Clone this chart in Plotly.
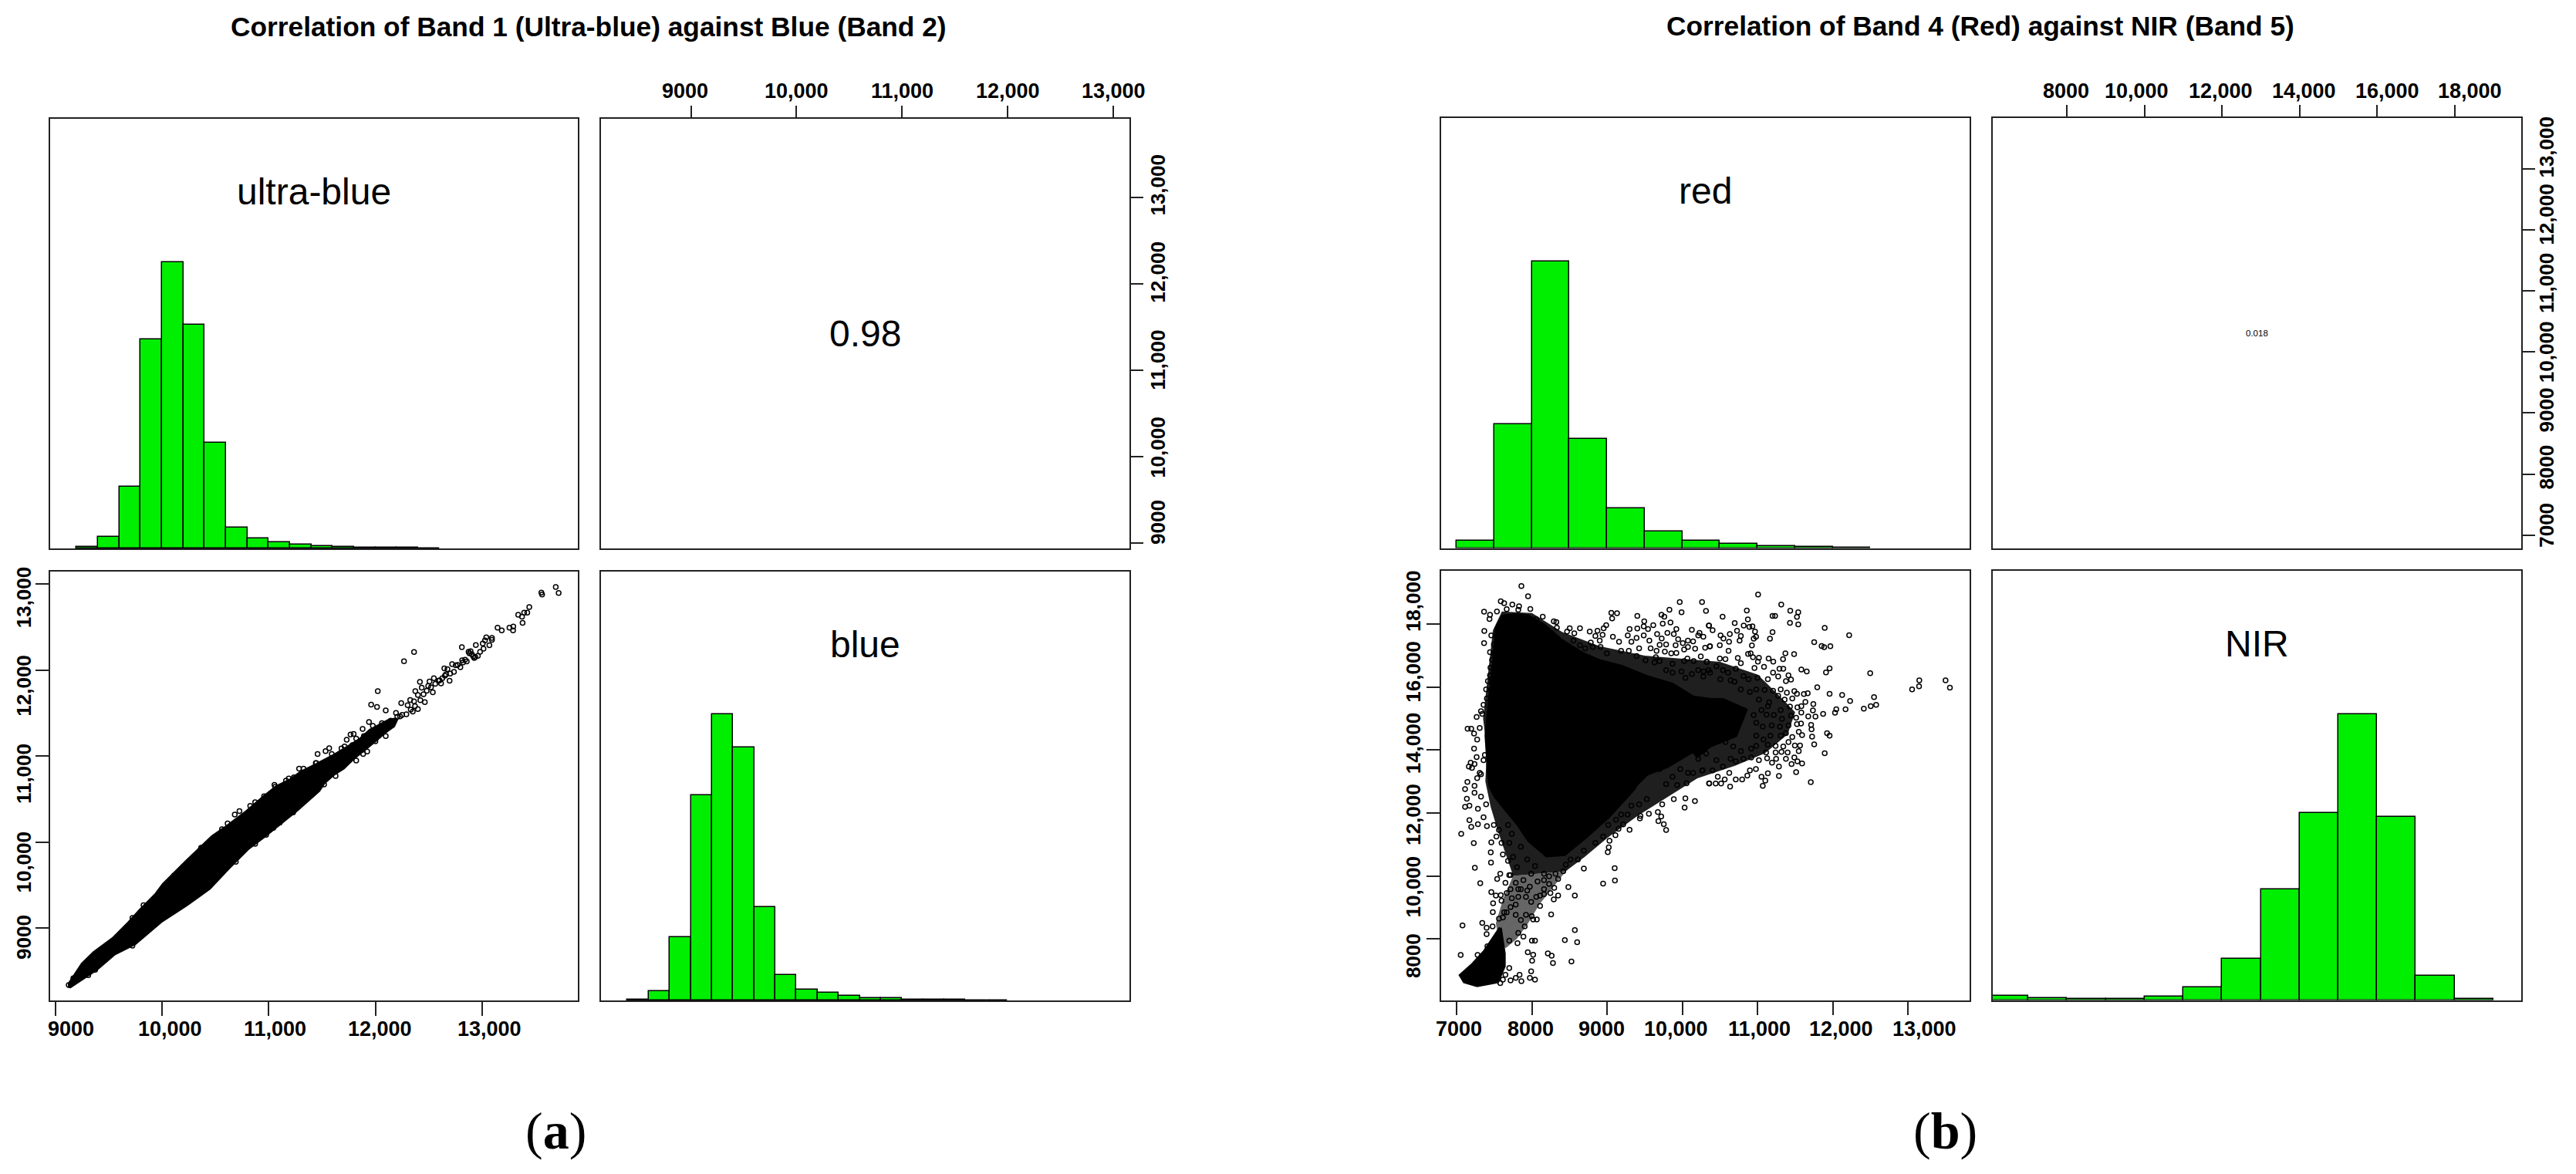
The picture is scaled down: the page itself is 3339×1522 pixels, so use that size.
import plotly.graph_objects as go

W, H = 3339, 1522

# ---------- tick labels ----------
A_ub_ticks = [9000, 10000, 11000, 12000, 13000]
A_b_ticks = [9000, 10000, 11000, 12000, 13000]
B_red_ticks = [7000, 8000, 9000, 10000, 11000, 12000, 13000]
B_nir_ticks = [8000, 10000, 12000, 14000, 16000, 18000]

# ---------- histograms (bin starts, height as % of tallest bin) ----------
ub_bins = [9200, 9400, 9600, 9800, 10000, 10200, 10400, 10600, 10800, 11000, 11200, 11400, 11600, 11800, 12000, 12200, 12400]
ub_hist = [0.6, 4.1, 21.6, 73.0, 100, 78.1, 36.8, 7.3, 3.4, 2.1, 1.3, 0.9, 0.6, 0.4, 0.3, 0.2, 0.1]
blue_bins = [8400, 8600, 8800, 9000, 9200, 9400, 9600, 9800, 10000, 10200, 10400, 10600, 10800, 11000, 11200, 11400, 11600, 11800]
blue_hist = [0.3, 3.2, 22.1, 71.7, 100, 88.6, 32.6, 9.0, 3.8, 2.6, 1.7, 0.9, 0.7, 0.4, 0.3, 0.2, 0.1, 0.1]
red_bins = [7000, 7500, 8000, 8500, 9000, 9500, 10000, 10500, 11000, 11500, 12000]
red_hist = [2.6, 43.1, 100, 38.0, 13.9, 5.9, 2.6, 1.4, 0.6, 0.3, 0.1]
nir_bins = [6000, 7000, 8000, 9000, 10000, 11000, 12000, 13000, 14000, 15000, 16000, 17000, 18000]
nir_hist = [1.6, 0.8, 0.3, 0.4, 1.1, 4.5, 14.3, 38.7, 65.4, 100, 64.0, 8.5, 0.3]

# ---------- panel (a) scatter: outline of the solid black band and single points ----------
A_band = [(9132, 8354), (9252, 8579), (9361, 8713), (9541, 8878), (9674, 9042), (9795, 9207), (9939, 9386),
          (10011, 9506), (10228, 9775), (10469, 10060), (10590, 10164), (10783, 10344), (10951, 10523), (11072, 10643),
          (11200, 10720), (11300, 10810), (11445, 10900), (11600, 11000), (11720, 11090), (11850, 11190), (11950, 11300),
          (12050, 11370), (12130, 11420), (12200, 11430), (12170, 11350), (12080, 11270), (12000, 11180), (11900, 11080),
          (11790, 10970), (11700, 10860), (11600, 10780), (11518, 10690), (11469, 10598), (11265, 10374), (11120, 10224),
          (10951, 10060), (10807, 9925), (10614, 9686), (10445, 9461), (10228, 9267), (9987, 9072), (9746, 8818),
          (9553, 8698), (9385, 8519), (9132, 8309)]
A_points = [(13689, 12967), (13716, 12896), (13554, 12902), (13561, 12878), (13441, 12734), (13337, 12644), (13422, 12668),
            (13393, 12668), (13373, 12620), (13378, 12549), (13255, 12492), (13291, 12507), (13289, 12462), (13144, 12492),
            (13183, 12462), (13091, 12375), (13038, 12381), (13091, 12351), (13067, 12288), (13026, 12345), (13005, 12309),
            (13012, 12249), (12980, 12213), (12940, 12291), (12809, 12267), (12361, 12210), (12267, 12103), (12021, 11756),
            (11959, 11597), (12014, 11570), (12416, 11863), (12872, 12213), (12903, 12184), (12935, 12151), (12959, 12166),
            (12891, 12219), (12915, 12160), (12925, 12140), (12880, 12195), (12855, 12100), (12812, 12115), (12795, 12034),
            (12752, 12055), (12718, 12070), (12645, 12019), (12674, 12010), (12735, 11980), (12694, 11875), (12650, 11935),
            (12626, 11905), (12590, 11875), (12614, 11845), (12547, 11905), (12506, 11866), (12494, 11815), (12433, 11795),
            (12537, 11741), (12373, 11756), (12462, 11627), (12397, 11711), (12361, 11636), (12325, 11651), (12301, 11591),
            (12241, 11615), (12096, 11531), (12349, 11516), (12289, 11486), (12192, 11501), (12397, 11546), (12060, 11382),
            (12096, 11352), (12144, 11412), (12204, 11457), (12072, 11292), (12096, 11232), (11939, 11397), (11975, 11352),
            (11879, 11316), (11795, 11256), (11766, 11250), (11730, 11190), (11819, 11202), (11566, 11091), (11532, 11058),
            (11590, 11023), (11457, 11023), (11681, 11088), (11710, 11112), (11783, 11127), (11891, 11232), (11975, 11277),
            (12036, 11322), (11819, 10948), (11884, 11023), (11922, 11053), (11999, 11172), (11626, 10768), (11518, 10670),
            (11440, 10918), (11385, 10813), (12330, 11540), (12370, 11580), (12420, 11650), (12250, 11480), (12450, 11720),
            (12480, 11760), (12520, 11800), (12560, 11840), (12600, 11880), (12660, 11950), (12700, 11960), (12770, 12060),
            (12820, 12090), (12840, 12120), (12230, 11460), (12160, 11380), (11445, 10918), (11284, 10852), (11325, 10852),
            (11378, 10819), (11187, 10738), (11161, 10714), (11053, 10664), (11235, 10753), (9826, 9264), (9722, 8794),
            (9722, 9117), (9308, 8450), (9373, 8513), (9125, 8336), (9168, 8414), (10681, 10320), (10725, 10359),
            (10614, 10215), (10561, 10149), (10826, 10419), (10872, 10463), (10956, 10532), (10691, 9769), (10872, 9979),
            (10975, 10084), (11043, 10164), (11103, 10224), (11228, 10344), (10113, 9611), (10199, 9710), (10366, 9934),
            (11060, 10643)]

# ---------- panel (b) scatter: outlines of the black / dense regions and single points ----------
B_fringe = [(7400, 14000), (7350, 15000), (7420, 16500), (7480, 17800), (7600, 18400), (8000, 18350), (8400, 17750), (8900, 17300),
            (9500, 17000), (10000, 16900), (10500, 16800), (11000, 16400), (11300, 15700), (11500, 15200), (11400, 14500),
            (11100, 13900), (10700, 13500), (10200, 13100), (9800, 12500), (9400, 11900), (9000, 11200), (8700, 10600),
            (8450, 10150), (7750, 10000), (7650, 10700), (7550, 11400), (7450, 12200), (7380, 13000)]
B_neck = [(8450, 10150), (8300, 9700), (8100, 9100), (7950, 8500), (7800, 8000), (7650, 7700), (7560, 7900), (7520, 8500),
          (7620, 9300), (7750, 10000)]
B_mass = [(7425, 13148), (7390, 14455), (7442, 15762), (7493, 16825), (7527, 17887), (7613, 18254), (7783, 18295),
          (7954, 18254), (8160, 17968), (8399, 17478), (8672, 17070), (8912, 16825), (9185, 16661), (9527, 16334),
          (9869, 16089), (10143, 15681), (10382, 15599), (10539, 15599), (10847, 15272), (10710, 14455), (10368, 14128),
          (10197, 13802), (10143, 13965), (9801, 13475), (9527, 13230), (9390, 12903), (9356, 12764), (9014, 11866),
          (8707, 11212), (8433, 10681), (8194, 10640), (7954, 11130), (7818, 11620), (7647, 12111), (7510, 12519),
          (7442, 12846)]
B_foot = [(7578, 8352), (7630, 7535), (7630, 7127), (7544, 6637), (7271, 6514), (7100, 6637), (7048, 6841), (7202, 7168),
          (7373, 7617), (7493, 8026)]
B_points = [(7859, 19210), (7948, 18883), (7585, 18728), (7630, 18663), (7739, 18622), (7828, 18565), (7978, 18483),
            (7363, 18393), (7534, 18401), (7442, 18295), (7435, 18164), (7664, 18475), (7818, 18459), (8143, 18238),
            (8057, 18156), (8290, 18091), (8324, 18066), (7366, 17780), (7363, 17396), (7459, 17641), (7493, 17356),
            (7442, 17110), (7493, 17070), (7469, 16865), (7448, 16620), (7493, 16580), (7442, 16375), (7414, 16187),
            (7390, 15926), (7400, 15640), (7356, 15436), (7322, 15231), (7264, 15052), (7339, 15150), (7144, 14676),
            (7192, 14676), (7230, 14521), (7305, 14700), (7271, 14333), (7230, 14047), (7264, 13777), (7356, 13679),
            (7185, 13597), (7161, 13475), (7202, 13434), (7236, 13557), (7141, 12985), (7305, 13270), (7271, 13107),
            (7236, 12862), (7373, 13842), (7322, 13230), (8502, 17870), (8638, 17870), (8563, 17707), (8467, 17764),
            (8331, 17887), (8768, 17764), (8871, 17788), (8953, 17870), (8987, 17968), (9055, 18360), (9131, 18344),
            (9066, 18181), (8939, 17658), (8843, 17625), (8782, 17413), (8901, 17478), (9076, 17601), (9158, 17437),
            (9401, 18262), (9493, 18091), (9298, 17846), (9401, 17862), (9274, 17641), (9391, 17560), (9486, 17641),
            (9544, 17846), (9613, 17968), (9486, 17928), (9722, 18295), (9760, 18238), (9739, 18017), (9842, 18050),
            (9828, 18458), (9965, 18704), (9989, 18377), (9920, 17846), (10126, 17821), (10262, 18704), (10314, 18418),
            (10355, 17952), (10228, 17723), (10279, 17601), (9664, 17682), (9725, 17543), (9801, 17723), (9886, 17682),
            (9944, 17519), (10006, 17396), (10074, 17478), (10143, 17454), (10211, 17641), (9784, 17356), (9698, 17339),
            (9910, 17331), (10074, 17274), (10170, 17217), (10303, 17249), (10365, 17290), (9578, 17233), (9657, 17151),
            (9767, 17127), (9852, 17070), (9920, 17086), (10023, 17192), (10245, 16972), (10324, 16800), (10150, 16824),
            (10023, 16824), (10067, 16906), (9647, 16947), (9698, 16824), (9510, 16849), (9869, 16743), (9784, 16539),
            (9989, 16498), (10211, 16539), (10126, 16416), (10348, 16539), (10279, 16334), (10040, 16293), (9869, 16457),
            (9630, 16784), (9391, 16988), (9288, 17151), (9185, 17151), (9425, 17233), (9322, 17437), (9561, 17478),
            (8997, 17070), (8912, 17274), (8809, 17274), (8707, 17233), (8553, 17478), (8638, 17331),
            (11007, 18941), (11315, 18622), (11435, 18426), (11541, 18377), (11524, 18230), (10857, 18434), (10871, 18148),
            (10535, 18238), (11199, 18262), (11233, 18262), (11431, 18042), (11541, 17993), (10696, 18034), (10816, 17952),
            (10891, 17911), (10932, 17927), (10351, 17952), (10402, 17805), (10966, 17764), (10727, 17788), (11199, 17748),
            (10631, 17682), (10508, 17641), (10546, 17543), (10778, 17625), (10980, 17601), (10761, 17478), (10949, 17535),
            (11165, 17535), (10621, 17437), (10498, 17331), (10925, 17323), (10614, 17151), (10368, 17298), (11370, 17070),
            (11486, 17045), (10874, 17053), (10908, 17070), (10939, 16947), (11018, 16931), (11004, 16808), (11147, 16906),
            (11209, 16808), (11339, 16890), (10498, 16906), (10573, 16890), (10737, 16922), (10778, 16759), (10324, 16800),
            (11893, 17878), (12218, 17650), (11753, 17429), (11852, 17307), (11886, 17266), (11968, 17298), (11582, 16555),
            (11654, 16498), (11958, 16596), (11910, 16465), (12498, 16441), (13151, 16212), (13148, 16024), (13055, 15926),
            (13500, 16212), (13558, 15983), (11342, 16579), (11291, 16579), (10959, 16604), (11086, 16645), (11206, 16457),
            (11411, 16375), (11445, 16236), (11377, 16187), (11274, 16334), (11137, 16252), (11000, 16293), (10812, 16351),
            (10881, 16252), (11308, 15926), (11206, 15885), (11093, 15910), (11794, 15991), (11958, 15787), (12125, 15746),
            (12231, 15558), (12549, 15681), (12577, 15436), (12505, 15395), (12413, 15313), (12170, 15297), (12047, 15297),
            (12030, 15182), (11872, 15150), (11770, 15060), (11736, 15256), (11742, 15460), (11636, 15526), (11667, 15803),
            (11616, 15778), (11524, 15787), (11489, 15869), (11390, 15820), (11462, 15640), (11582, 15395), (11530, 15354),
            (11431, 15378), (11360, 15599), (11274, 15722), (11154, 15517), (11137, 15395), (11308, 15272), (11582, 15190),
            (11445, 15092), (11674, 15068), (11513, 15027), (11325, 14986), (11216, 15108), (11120, 15125), (11578, 14839),
            (11712, 14798), (11718, 14660), (11524, 14823), (11411, 14782), (11298, 14741), (11188, 14782), (11069, 14741),
            (10983, 14864), (11548, 14578), (11592, 14472), (11725, 14422), (11924, 14537), (11958, 14455), (11462, 14414),
            (11377, 14537), (11308, 14455), (11171, 14455), (11079, 14333), (11753, 14177), (11565, 14145), (11496, 14145),
            (11411, 14251), (11342, 14112), (11240, 14128), (11137, 14169), (11548, 13965), (11400, 13924), (11318, 13940),
            (11240, 13924), (11113, 13924), (11893, 13900), (11489, 13761), (11377, 13720), (11247, 13720), (11127, 13736),
            (11018, 13679), (11530, 13638), (11592, 13573), (11452, 13556), (11192, 13597), (11284, 13475), (10978, 13393),
            (10898, 13352), (11513, 13295), (11137, 13262), (11284, 13172), (11052, 13148), (11103, 13025), (10864, 13189),
            (10795, 13066), (10710, 13066), (10563, 13066), (10471, 13148), (11708, 12977), (10358, 12936), (10443, 12936),
            (10515, 12936), (10635, 12838), (11069, 12862), (10573, 14251), (10676, 14112), (10778, 13965), (10915, 14047),
            (10983, 14128), (10812, 13720), (10641, 13720), (10539, 13475), (10402, 13352), (10265, 13352), (10624, 13270),
            (10710, 13638), (10915, 13761), (10453, 13679), (10317, 13883), (10983, 14455), (10949, 15108), (11018, 15599),
            (10898, 15844), (11052, 15272), (10778, 15926), (10983, 15926), (10693, 16171), (10641, 16212), (10505, 16253),
            (10368, 16457), (10539, 16538), (10710, 16579), (10453, 16661), (10607, 16457), (10282, 16498),
            (7110, 12756), (7134, 12454), (7110, 12192), (7168, 12233), (7281, 12135), (7168, 11768), (7192, 11555),
            (7281, 11645), (7401, 11580), (7059, 11335), (7226, 11040), (7459, 11065), (7452, 10746), (7455, 10420),
            (7240, 10256), (7578, 10068), (7537, 9905), (7312, 9766), (7459, 9488), (7520, 9374), (7585, 9390),
            (7483, 9129), (7479, 8851), (7339, 8508), (7076, 8426), (7397, 8353), (7476, 8393), (7397, 8148), (7052, 7486),
            (7277, 7486), (7407, 7764), (7322, 12519), (7236, 12642), (7390, 12274), (7356, 11866), (7493, 11620),
            (7561, 11457), (7527, 11253), (7595, 11048), (7681, 11620), (7732, 11335), (7698, 11048), (7613, 10681),
            (7681, 10477), (7749, 10599), (7852, 10926), (7801, 10273), (7698, 10027), (7647, 9782), (7784, 9782),
            (7886, 9864), (7937, 10518), (7989, 10068), (8040, 10313), (8160, 10068), (8228, 9741), (8296, 9619),
            (8348, 9905), (8416, 10150), (8450, 10354), (8611, 10518), (8690, 10232), (8512, 10518), (8690, 10803),
            (8843, 11049), (8946, 11253), (9031, 11114), (9021, 10910), (9008, 10754), (9110, 11294), (9014, 11620),
            (9151, 11498), (9213, 11637), (9298, 11465), (9100, 10248), (9103, 9856), (8946, 9758), (8570, 9374),
            (8484, 9643), (8348, 9374), (8290, 9251), (8255, 8777), (8570, 8279), (8601, 7895), (8437, 7960), (8040, 7944),
            (7999, 7944), (7944, 7576), (8016, 7495), (8002, 7307), (8211, 7536), (8262, 7462), (8279, 7233), (8525, 7282),
            (7989, 6964), (7972, 6759), (8040, 6702), (7698, 7070), (7835, 6857), (7859, 6653), (7784, 6759), (7715, 6678),
            (7647, 6857), (7613, 6702), (7578, 6596), (7510, 6841), (8160, 9578), (8108, 9374), (8108, 9047), (7989, 9170),
            (7920, 9333), (7996, 8720), (8064, 8614), (8016, 8614), (7903, 8393), (7886, 8067), (7807, 7862), (7698, 7944),
            (7818, 8189), (7852, 8598), (7920, 8761), (7784, 8761), (7664, 8843), (7613, 8679), (7561, 8638), (7784, 9088),
            (7715, 9006), (7818, 9333), (7732, 9292), (7630, 8843), (7852, 9578), (7971, 9660), (8057, 9333), (8160, 9415),
            (8245, 9455), (8313, 10068), (8228, 9987), (8160, 9864), (8074, 9823), (7937, 9537), (7664, 9455), (7595, 9210),
            (7715, 10027), (7818, 9578), (7715, 9578), (9442, 11906), (9435, 11825), (9555, 11972), (9674, 12029),
            (9719, 11890), (9681, 11743), (9753, 11645), (9784, 11457), (10040, 12462), (10167, 12380), (10030, 12168),
            (9886, 12437), (9732, 12274), (9527, 12437), (9425, 12274), (9322, 12233), (9271, 11947), (9185, 11947),
            (9117, 11784), (10211, 13720), (10269, 13352), (10057, 12944), (10355, 12944), (9869, 13148), (9698, 13393),
            (9784, 12919), (9931, 12887), (10074, 13271), (10143, 13271), (9972, 13393)]

# ---------- styling ----------
GREEN = "#00EE00"
SANS = "Liberation Sans"
LINE = dict(showline=True, linecolor="#222222", linewidth=1.5, mirror=True, zeroline=False, showgrid=False, automargin=False)

# the reference's tick labels sit a few pixels off their ticks
A_bottom_shift = [20, 10, 8, 6, 9]
A_top_shift = [-8, 0, 0, 0, 0]
A_left_shift = [-12, -26, -23, -20, -17]
A_right_shift = [27, 12, 13, 15, 16]
B_bottom_shift = [3, -2, -7, -8, 2, 11, 21]
B_top_shift = [-1, -10, -2, 6, 13, 20]
B_left_shift = [-22, -14, -2, 9, 20, 30]
B_right_shift = [13, 9, 4, 0, 10, 20, 28]


def xdom(a, b):
    return [a / W, b / W]


def ydom(top, bottom):
    return [1 - bottom / H, 1 - top / H]


def fmt(v):
    return f"{v:,}" if v >= 10000 else str(v)


def tick_axis(side, vals, length):
    return dict(ticks="outside", ticklen=length, tickwidth=1.5, tickcolor="#222222", side=side,
                tickmode="array", tickvals=vals, showticklabels=False)


NO_TICKS = dict(showticklabels=False, ticks="")

fig = go.Figure()


def hist(bins, vals, width, n):
    fig.add_trace(go.Bar(x=[b + width / 2 for b in bins], y=vals, width=width, marker=dict(color=GREEN, line=dict(color="black", width=1.5)),
                         xaxis=f"x{n}", yaxis=f"y{n}", showlegend=False))


def blob(outline, n, fill="black", edge=4):
    fig.add_trace(go.Scatter(x=[p[0] for p in outline] + [outline[0][0]], y=[p[1] for p in outline] + [outline[0][1]], mode="lines", fill="toself",
                             fillcolor=fill, line=dict(color=fill, width=edge), xaxis=f"x{n}", yaxis=f"y{n}", showlegend=False))


def dots(pts, n):
    fig.add_trace(go.Scatter(x=[p[0] for p in pts], y=[p[1] for p in pts], mode="markers",
                             marker=dict(symbol="circle-open", size=6, color="black", line=dict(color="black", width=1.5)),
                             xaxis=f"x{n}", yaxis=f"y{n}", showlegend=False))


def empty(n):
    fig.add_trace(go.Scatter(x=[None], y=[None], mode="markers", xaxis=f"x{n}", yaxis=f"y{n}", showlegend=False))


hist(ub_bins, ub_hist, 200, 1)
empty(2)
hist(blue_bins, blue_hist, 200, 4)
blob(A_band, 3)
dots(A_points, 3)
hist(red_bins, red_hist, 500, 5)
empty(6)
hist(nir_bins, nir_hist, 1000, 8)
blob(B_fringe, 7, "rgba(0,0,0,0.88)", 0)
blob(B_neck, 7, "rgba(0,0,0,0.6)", 0)
blob(B_mass, 7)
blob(B_foot, 7)
dots(B_points, 7)

layout = dict(
    width=W, height=H, margin=dict(l=0, r=0, t=0, b=0), autosize=False, plot_bgcolor="white", paper_bgcolor="white",
    showlegend=False, bargap=0,
    # panel (a)
    xaxis=dict(domain=xdom(65, 749), range=[8951, 13896], anchor="y", **LINE, **NO_TICKS),
    yaxis=dict(domain=ydom(154, 711), range=[0, 150], anchor="x", **LINE, **NO_TICKS),
    xaxis2=dict(domain=xdom(779, 1464), range=[8148, 13153], anchor="y2", **LINE, **tick_axis("top", A_b_ticks, 15)),
    yaxis2=dict(domain=ydom(154, 711), range=[8937, 13906], anchor="x2", **LINE, **tick_axis("right", A_ub_ticks, 16)),
    xaxis3=dict(domain=xdom(65, 749), range=[8951, 13896], anchor="y3", **LINE, **tick_axis("bottom", A_ub_ticks, 18)),
    yaxis3=dict(domain=ydom(741, 1297), range=[8156, 13146], anchor="x3", **LINE, **tick_axis("left", A_b_ticks, 17)),
    xaxis4=dict(domain=xdom(779, 1464), range=[8148, 13153], anchor="y4", **LINE, **NO_TICKS),
    yaxis4=dict(domain=ydom(741, 1297), range=[0, 150], anchor="x4", **LINE, **NO_TICKS),
    # panel (b)
    xaxis5=dict(domain=xdom(1868, 2553), range=[6792, 13820], anchor="y5", **LINE, **NO_TICKS),
    yaxis5=dict(domain=ydom(153, 710.5), range=[0, 150], anchor="x5", **LINE, **NO_TICKS),
    xaxis6=dict(domain=xdom(2583, 3268), range=[6083, 19717], anchor="y6", **LINE, **tick_axis("top", B_nir_ticks, 15)),
    yaxis6=dict(domain=ydom(153, 710.5), range=[6789, 13828], anchor="x6", **LINE, **tick_axis("right", B_red_ticks, 16)),
    xaxis7=dict(domain=xdom(1868, 2553), range=[6792, 13820], anchor="y7", **LINE, **tick_axis("bottom", B_red_ticks, 18)),
    yaxis7=dict(domain=ydom(740, 1296.5), range=[6054, 19694], anchor="x7", **LINE, **tick_axis("left", B_nir_ticks, 17)),
    xaxis8=dict(domain=xdom(2583, 3268), range=[6083, 19717], anchor="y8", **LINE, **NO_TICKS),
    yaxis8=dict(domain=ydom(740, 1296.5), range=[0, 150], anchor="x8", **LINE, **NO_TICKS),
)


def label(text, n, yfrac, size=48):
    return dict(text=text, xref=f"x{n if n > 1 else ''} domain", yref=f"y{n if n > 1 else ''} domain", x=0.5, y=yfrac, showarrow=False,
                font=dict(family=SANS, size=size, color="black"), xanchor="center", yanchor="middle")


def paper(text, x, y, family, size):
    return dict(text=text, xref="paper", yref="paper", x=x / W, y=1 - y / H, showarrow=False, xanchor="center", yanchor="middle",
                font=dict(family=family, size=size, color="black"))


def h_labels(vals, shifts, n, py):
    return [dict(text=f"<b>{fmt(v)}</b>", xref=f"x{n}", yref="paper", x=v, y=1 - py / H, xshift=s, showarrow=False, xanchor="center", yanchor="middle",
                 font=dict(family=SANS, size=27, color="black")) for v, s in zip(vals, shifts)]


def v_labels(vals, shifts, n, px):
    return [dict(text=f"<b>{fmt(v)}</b>", yref=f"y{n}", xref="paper", y=v, x=px / W, yshift=s, textangle=-90, showarrow=False, xanchor="center", yanchor="middle",
                 font=dict(family=SANS, size=26, color="black")) for v, s in zip(vals, shifts)]


layout["annotations"] = [
    label("ultra-blue", 1, 0.83), label("0.98", 2, 0.5), label("blue", 4, 0.83),
    label("red", 5, 0.83), label("0.018", 6, 0.5, 11.5), label("NIR", 8, 0.83),
    paper("<b>Correlation of Band 1 (Ultra-blue) against Blue (Band 2)</b>", 763, 34, SANS, 35.3),
    paper("<b>Correlation of Band 4 (Red) against NIR (Band 5)</b>", 2567, 33, SANS, 35.3),
    paper("(<b>a</b>)", 720, 1466, "Liberation Serif", 68),
    paper("(<b>b</b>)", 2521, 1466, "Liberation Serif", 68),
] + h_labels(A_ub_ticks, A_bottom_shift, 3, 1333.5) + h_labels(A_b_ticks, A_top_shift, 2, 118) \
  + v_labels(A_b_ticks, A_left_shift, 3, 31) + v_labels(A_ub_ticks, A_right_shift, 2, 1501) \
  + h_labels(B_red_ticks, B_bottom_shift, 7, 1334) + h_labels(B_nir_ticks, B_top_shift, 6, 118) \
  + v_labels(B_nir_ticks, B_left_shift, 7, 1832) + v_labels(B_red_ticks, B_right_shift, 6, 3301)
fig.update_layout(**layout)
fig.write_html("out.html", config=dict(displayModeBar=False), post_script="document.body.style.margin='0';")
